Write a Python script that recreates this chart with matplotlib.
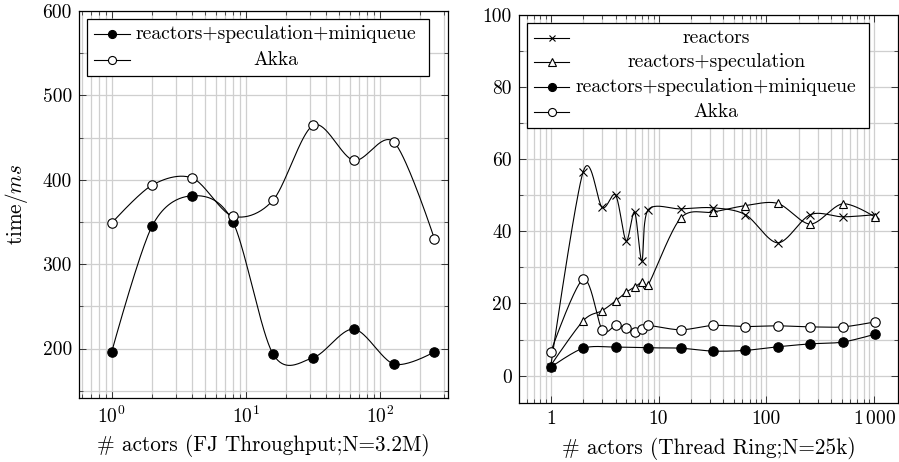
import numpy as np
import matplotlib
matplotlib.use("Agg")
import matplotlib.pyplot as plt
from matplotlib.patches import Rectangle
from matplotlib.lines import Line2D

plt.rcParams['font.family'] = ['cmr10', 'DejaVu Serif']
plt.rcParams['mathtext.fontset'] = 'cm'
plt.rcParams['axes.formatter.use_mathtext'] = True

# ---------------- data ----------------
# Left: FJ Throughput
fj_x = [1, 2, 4, 8, 16, 32, 64, 128, 256]
fj_miniqueue = [196, 345, 381, 350.5, 193.4, 189.3, 223, 181.5, 196]
fj_akka = [348.6, 393.6, 402, 356.9, 375.8, 464.7, 423, 444.5, 330]

# Right: Thread Ring
tr_x = [1, 2, 3, 4, 5, 6, 7, 8, 16, 32, 64, 128, 256, 512, 1024]
tr_reactors = [2.5, 56.5, 46.6, 50.0, 37.4, 45.3, 31.8, 45.9, 46.2, 46.5, 44.6, 36.8, 44.6, 44.0, 44.6]
tr_speculation = [2.8, 15.2, 18.0, 20.7, 23.1, 24.5, 25.9, 25.1, 43.6, 45.3, 47.1, 47.7, 42.0, 47.6, 43.9]
tr_akka = [6.5, 26.7, 12.7, 13.9, 13.1, 12.2, 12.9, 13.9, 12.7, 13.9, 13.6, 13.8, 13.5, 13.5, 14.9]
tr_mq_x = [1, 2, 4, 8, 16, 32, 64, 128, 256, 512, 1024]
tr_miniqueue = [2.3, 7.6, 7.9, 7.7, 7.6, 6.8, 7.0, 8.0, 8.8, 9.3, 11.5]

left_yticks = [200, 300, 400, 500, 600]
left_xticks = [1, 10, 100]
left_xticklabels = [r'$10^{0}$', r'$10^{1}$', r'$10^{2}$']
right_yticks = [0, 20, 40, 60, 80, 100]
right_xticks = [1, 10, 100, 1000]
right_xticklabels = ['1', '10', '100', r'$1\,000$']

left_xlabel = '# actors (FJ Throughput;N=3.2M)'
right_xlabel = '# actors (Thread Ring;N=25k)'
left_ylabel = r'time/$ms$'

left_legend = ['reactors+speculation+miniqueue', 'Akka']
right_legend = ['reactors', 'reactors+speculation', 'reactors+speculation+miniqueue', 'Akka']

# ---------------- helpers ----------------
W, H = 899, 462
TENSION = 0.153


def smooth_curve(xs, ys, n=40):
    u = np.log10(np.asarray(xs, float))
    v = np.asarray(ys, float)
    P = np.column_stack([u, v])
    m = len(P)
    out = [P[0:1]]
    t = np.linspace(0, 1, n)[1:, None]
    for i in range(m - 1):
        p0, p3 = P[i], P[i + 1]
        c1 = p0 if i == 0 else p0 + TENSION * (P[i + 1] - P[i - 1])
        c2 = p3 if i == m - 2 else p3 - TENSION * (P[i + 2] - P[i])
        seg = ((1 - t) ** 3) * p0 + 3 * ((1 - t) ** 2) * t * c1 + 3 * (1 - t) * t ** 2 * c2 + t ** 3 * p3
        out.append(seg)
    pts = np.vstack(out)
    return 10 ** pts[:, 0], pts[:, 1]


styles = {
    'reactors': dict(marker='x', mfc='black', mec='black', ms=5.5, mew=0.8),
    'spec': dict(marker='^', mfc='white', mec='black', ms=6, mew=0.8),
    'mq': dict(marker='o', mfc='black', mec='black', ms=6.8, mew=0.8),
    'akka': dict(marker='o', mfc='white', mec='black', ms=6.8, mew=0.8),
}


def draw_series(ax, xs, ys, key):
    cx, cy = smooth_curve(xs, ys)
    ax.plot(cx, cy, color='black', lw=0.8, zorder=3)
    ax.plot(xs, ys, ls='none', zorder=4, **styles[key])


def style_axes(ax):
    ax.set_xscale('log')
    ax.grid(True, which='both', color='#cfcfcf', lw=0.9, zorder=0)
    ax.set_axisbelow(True)
    ax.tick_params(which='both', direction='in', top=True, right=True,
                   color='#333333', labelsize=14, pad=5.2)
    ax.tick_params(which='major', length=5, width=0.7)
    ax.tick_params(which='minor', length=3, width=0.6)
    for s in ax.spines.values():
        s.set_linewidth(0.9)
        s.set_color('black')


def fig_pt(x, y):
    return x / W, 1 - y / H


def manual_legend(fig, box, rows, line_x, text_cx, labels, keys, fs):
    x0, y0, x1, y1 = box
    fx0, fy1 = fig_pt(x0, y0)
    fx1, fy0 = fig_pt(x1, y1)
    fig.add_artist(Rectangle((fx0, fy0), fx1 - fx0, fy1 - fy0, transform=fig.transFigure,
                             facecolor='white', edgecolor='black', lw=0.9, zorder=10))
    for ry, lab, key in zip(rows, labels, keys):
        a, fy = fig_pt(line_x[0], ry)
        b, _ = fig_pt(line_x[1], ry)
        fig.add_artist(Line2D([a, b], [fy, fy], transform=fig.transFigure, color='black', lw=0.8, zorder=11))
        st = dict(styles[key])
        st['ms'] = st['ms'] * 0.85
        mx, _ = fig_pt((line_x[0] + line_x[1]) / 2, ry)
        fig.add_artist(Line2D([mx], [fy], transform=fig.transFigure, ls='none', zorder=12, **st))
        tx, _ = fig_pt(text_cx, ry)
        fig.text(tx, fy, lab, ha='center', va='center', fontsize=fs, zorder=13)


fig = plt.figure(figsize=(W / 100, H / 100), dpi=100)

# Left axes
axL = fig.add_axes([79 / W, 1 - 398.3 / H, (448.3 - 79) / W, (398.3 - 11) / H])
style_axes(axL)
draw_series(axL, fj_x, fj_miniqueue, 'mq')
draw_series(axL, fj_x, fj_akka, 'akka')
axL.set_xlim(0.57, 325)
axL.set_ylim(141, 600)
axL.set_yticks(left_yticks)
axL.set_yticks([150, 250, 350, 450, 550], minor=True)
axL.set_yticklabels([str(v) for v in left_yticks])
axL.set_xticks(left_xticks)
axL.set_xticklabels(left_xticklabels)
axL.set_xlabel(left_xlabel, fontsize=15.3, labelpad=5.5)
axL.set_ylabel(left_ylabel, fontsize=15.3, labelpad=9)

# Right axes
axR = fig.add_axes([519 / W, 1 - 402.7 / H, (898.3 - 519) / W, (402.7 - 14.7) / H])
style_axes(axR)
draw_series(axR, tr_x, tr_reactors, 'reactors')
draw_series(axR, tr_x, tr_speculation, 'spec')
draw_series(axR, tr_mq_x, tr_miniqueue, 'mq')
draw_series(axR, tr_x, tr_akka, 'akka')
axR.set_xlim(0.508, 1676)
axR.set_ylim(-7.5, 100)
axR.set_yticks(right_yticks)
axR.set_yticks([10, 30, 50, 70, 90], minor=True)
axR.set_yticklabels([str(v) for v in right_yticks])
axR.set_xticks(right_xticks)
axR.set_xticklabels(right_xticklabels)
axR.set_xlabel(right_xlabel, fontsize=15.3, labelpad=6.5)

manual_legend(fig, (87, 19, 429, 76), [34.3, 60], (94.3, 130), 276,
              left_legend, ['mq', 'akka'], 14.1)
manual_legend(fig, (527, 23, 868.7, 128), [37.7, 62.3, 86.7, 111.7], (534.3, 569.3), 716.2,
              right_legend, ['reactors', 'spec', 'mq', 'akka'], 14.1)

fig.savefig('out.png', dpi=100)
